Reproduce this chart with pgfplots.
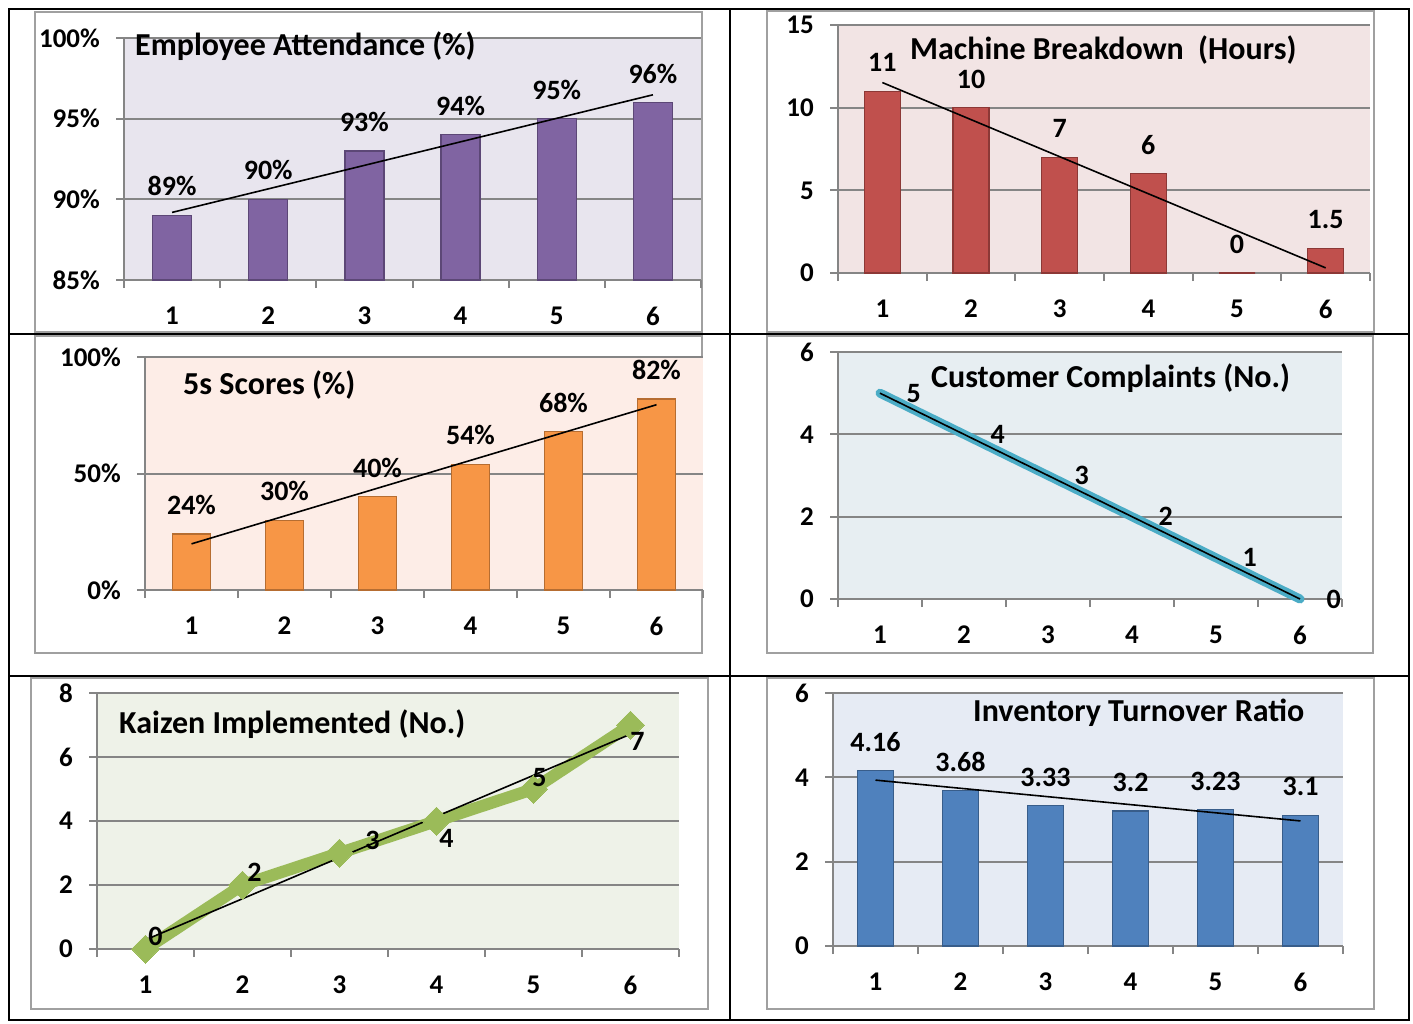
\documentclass[border=0pt]{standalone}
\usepackage{pgfplots}
\pgfplotsset{compat=1.18}
\usepackage{pgfplotstable}
\usepackage{fontspec}
\setmainfont{Carlito}

\definecolor{gridgray}{HTML}{858585}
\definecolor{boxgray}{HTML}{A0A0A0}
\definecolor{bgA}{HTML}{E8E5EE}
\definecolor{bgB}{HTML}{F2E4E4}
\definecolor{bgC}{HTML}{FDEDE7}
\definecolor{bgD}{HTML}{E7EEF2}
\definecolor{bgE}{HTML}{EEF2E8}
\definecolor{bgF}{HTML}{E6EBF4}
\definecolor{purp}{HTML}{8064A2}
\definecolor{purpd}{HTML}{5C4776}
\definecolor{redb}{HTML}{C0504D}
\definecolor{redd}{HTML}{8C3836}
\definecolor{orab}{HTML}{F79646}
\definecolor{orad}{HTML}{B66D31}
\definecolor{blub}{HTML}{4F81BD}
\definecolor{blud}{HTML}{385D8A}
\definecolor{cyanl}{HTML}{4BACC6}
\definecolor{kgreen}{HTML}{9BBB59}

\newcommand{\titlefont}{\fontsize{32}{37}\selectfont\bfseries}
\newcommand{\labfont}{\fontsize{28}{33}\selectfont\bfseries}
\newcommand{\tickfont}{\fontsize{27}{32}\selectfont\bfseries}

\pgfplotstableread{
x y lab dx dy
1 0 0 10 13
2 2 2 12 13
3 3 3 33 13
4 4 4 10 -17
5 5 5 6 11
6 7 7 7 -16
}\kaizen

\pgfplotsset{
  panel/.style={
    scale only axis, anchor=south west,
    xmin=0.5, xmax=6.5,
    axis lines=left,
    axis line style={-, draw=gridgray, line width=2pt},
    ymajorgrids, grid style={draw=gridgray, line width=2pt},
    xtick={1,2,3,4,5,6}, xticklabels={1,2,3,4,5,6},
    minor xtick={0.5,1.5,2.5,3.5,4.5,5.5,6.5},
    tick align=outside,
    major tick length=8pt, minor tick length=8pt,
    every tick/.append style={draw=gridgray, line width=2pt},
    every major x tick/.append style={draw=none},
    xticklabel style={font=\tickfont, inner sep=0pt, anchor=north, yshift=-19pt},
    yticklabel style={font=\tickfont, inner sep=0pt, anchor=east, xshift=-16pt},
  },
  barlab/.style={nodes near coords, point meta=explicit symbolic,
    every node near coord/.append style={font=\labfont, text=black, anchor=base, inner sep=0pt, yshift=19.5pt}},
  trend/.style={black, line width=1.6pt, mark=none},
}

\begin{document}
\begin{tikzpicture}
\useasboundingbox (0pt,0pt) rectangle (1413pt,-1023pt);
\fill[white] (0pt,0pt) rectangle (1413pt,-1023pt);

% chart boxes
\draw[boxgray, line width=2pt] (35pt,-12pt) rectangle (702pt,-332pt);
\draw[boxgray, line width=2pt] (767pt,-11pt) rectangle (1374pt,-332pt);
\draw[boxgray, line width=2pt] (35pt,-336pt) rectangle (702pt,-653pt);
\draw[boxgray, line width=2pt] (767pt,-336pt) rectangle (1373pt,-653pt);
\draw[boxgray, line width=2pt] (31pt,-678pt) rectangle (708pt,-1009pt);
\draw[boxgray, line width=2pt] (767pt,-678pt) rectangle (1374pt,-1009pt);

% 1 Employee Attendance
\begin{axis}[panel, at={(124pt,-280pt)}, width=577pt, height=242pt,
  ymin=85, ymax=100, ytick={85,90,95,100}, yticklabels={85\%,90\%,95\%,100\%},
  axis background/.style={fill=bgA}]
\addplot[ybar, bar width=39pt, fill=purp, draw=purpd, line width=1.2pt, barlab]
  coordinates {(1,89)[89\%] (2,90)[90\%] (3,93)[93\%] (4,94)[94\%] (5,95)[95\%] (6,96)[96\%]};
\addplot[trend] coordinates {(1,89.19) (6,96.48)};
\end{axis}
\node[font=\titlefont, anchor=west, inner sep=0pt] at (135pt,-46pt) {Employee Attendance (\%)};

% 2 Machine Breakdown
\begin{axis}[panel, at={(838pt,-273pt)}, width=532pt, height=248pt,
  ymin=0, ymax=15, ytick={0,5,10,15}, yticklabels={0,5,10,15},
  axis background/.style={fill=bgB}]
\addplot[ybar, bar width=36pt, fill=redb, draw=redd, line width=1.2pt, barlab]
  coordinates {(1,11)[11] (2,10)[10] (3,7)[7] (4,6)[6] (5,0)[0] (6,1.5)[1.5]};
\addplot[trend] coordinates {(1,11.52) (6,0.31)};
\end{axis}
\node[font=\titlefont, anchor=west, inner sep=0pt] at (910pt,-50pt) {Machine Breakdown~ (Hours)};

% 3 5s Scores
\begin{axis}[panel, at={(145pt,-590pt)}, width=558pt, height=233pt,
  ymin=0, ymax=100, ytick={0,50,100}, yticklabels={0\%,50\%,100\%},
  axis background/.style={fill=bgC}]
\addplot[ybar, bar width=38pt, fill=orab, draw=orad, line width=1.2pt, barlab]
  coordinates {(1,24)[24\%] (2,30)[30\%] (3,40)[40\%] (4,54)[54\%] (5,68)[68\%] (6,82)[82\%]};
\addplot[trend] coordinates {(1,19.81) (6,79.52)};
\end{axis}
\node[font=\titlefont, anchor=west, inner sep=0pt] at (183pt,-385pt) {5s Scores (\%)};

% 4 Customer Complaints
\begin{axis}[panel, at={(838pt,-599pt)}, width=504pt, height=247pt,
  ymin=0, ymax=6, ytick={0,2,4,6}, yticklabels={0,2,4,6}, clip=false,
  axis background/.style={fill=bgD}]
\addplot[cyanl, line width=9pt, line cap=round, line join=round, mark=none,
  nodes near coords, point meta=explicit symbolic,
  every node near coord/.append style={font=\labfont, text=black, anchor=west, inner sep=0pt, xshift=22pt}]
  coordinates {(1,5)[5] (2,4)[4] (3,3)[3] (4,2)[2] (5,1)[1] (6,0)[0]};
\addplot[trend] coordinates {(1,5) (6,0)};
\end{axis}
\node[font=\titlefont, anchor=west, inner sep=0pt] at (931pt,-378pt) {Customer Complaints (No.)};

% 5 Kaizen Implemented
\begin{axis}[panel, at={(97pt,-949pt)}, width=582pt, height=256pt,
  ymin=0, ymax=8, ytick={0,2,4,6,8}, yticklabels={0,2,4,6,8}, clip=false,
  axis background/.style={fill=bgE}]
\addplot[kgreen, line width=12pt, line join=round, mark=diamond*, mark size=14pt,
  mark options={fill=kgreen, draw=kgreen, line width=0pt, xscale=1.33},
  nodes near coords, point meta=explicit symbolic,
  visualization depends on={\thisrow{dx}\as\mydx},
  visualization depends on={\thisrow{dy}\as\mydy},
  every node near coord/.append style={font=\labfont, text=black, anchor=center, inner sep=0pt, xshift=\mydx pt, yshift=\mydy pt}]
  table[x=x, y=y, meta=lab] {\kaizen};
\addplot[trend] coordinates {(1,0.286) (6,6.714)};
\end{axis}
\node[font=\titlefont, anchor=west, inner sep=0pt] at (119pt,-724pt) {Kaizen Implemented (No.)};

% 6 Inventory Turnover Ratio
\begin{axis}[panel, at={(833pt,-946pt)}, width=510pt, height=253pt,
  ymin=0, ymax=6, ytick={0,2,4,6}, yticklabels={0,2,4,6},
  axis background/.style={fill=bgF}]
\addplot[ybar, bar width=36pt, fill=blub, draw=blud, line width=1.2pt, barlab]
  coordinates {(1,4.16)[4.16] (2,3.68)[3.68] (3,3.33)[3.33] (4,3.2)[3.2] (5,3.23)[3.23] (6,3.1)[3.1]};
\addplot[trend] coordinates {(1,3.934) (6,2.966)};
\end{axis}
\node[font=\titlefont, anchor=west, inner sep=0pt] at (973pt,-713pt) {Inventory Turnover Ratio};

% table lines
\draw[black, line width=2.5pt] (9pt,-9pt) rectangle (1409pt,-1020pt);
\draw[black, line width=2.5pt] (730pt,-9pt) -- (730pt,-1020pt);
\draw[black, line width=2.5pt] (9pt,-334pt) -- (1409pt,-334pt);
\draw[black, line width=2.5pt] (9pt,-676pt) -- (1409pt,-676pt);
\end{tikzpicture}
\end{document}
